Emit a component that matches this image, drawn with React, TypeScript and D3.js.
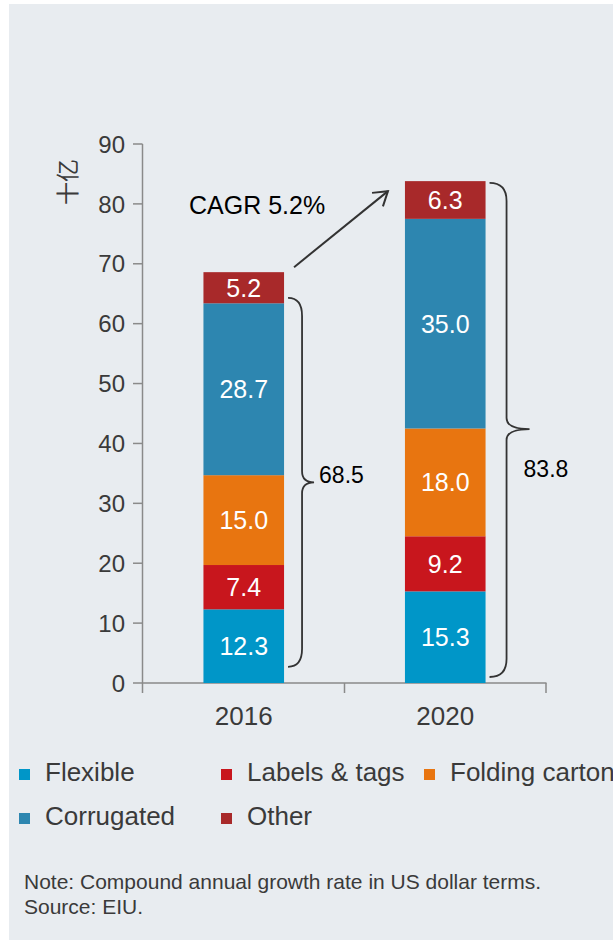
import React from "react";
import * as d3 from "d3";

const years = ["2016", "2020"];
const seriesNames = ["Flexible", "Labels & tags", "Folding carton", "Corrugated", "Other"];
const seriesColors = ["#0096c8", "#c8161d", "#e87510", "#2d86b0", "#a8292a"];
const values2016 = [12.3, 7.4, 15.0, 28.7, 5.2];
const values2020 = [15.3, 9.2, 18.0, 35.0, 6.3];
const totals = ["68.5", "83.8"];
const yTicks = [0, 10, 20, 30, 40, 50, 60, 70, 80, 90];
const braceLow = [2.7, 1.0];
const braceHigh = [64.3, 83.5];
const braceMid = [33.5, 42.4];
const totalLabelAt = [34.8, 35.8];
const cagrLabel = "CAGR 5.2%";
const yAxisTitle = "十亿";
const noteLines = ["Note: Compound annual growth rate in US dollar terms.", "Source: EIU."];

const W = 613;
const H = 940;
const FONT = "Arial, 'Liberation Sans', Helvetica, sans-serif";

export default function App() {
  const y = d3.scaleLinear().domain([0, 90]).range([683, 144]);
  const x = d3.scaleBand<string>().domain(years).range([143, 546]).paddingInner(0.6).paddingOuter(0.3);
  const bw = x.bandwidth();
  const data = [values2016, values2020];
  const stackRows = years.map((yr, i) => {
    const row: any = { year: yr };
    seriesNames.forEach((s, j) => (row[s] = data[i][j]));
    return row;
  });
  const stacked = d3.stack<any>().keys(seriesNames)(stackRows);

  const axisColor = "#8a8a8a";
  const textColor = "#3a3a3a";

  const spineOff = [18, 21];
  const tipOff = [30, 44];
  const labelOff = [35, 38];

  const bracePath = (i: number) => {
    const bx = (x(years[i]) as number) + bw;
    const x0 = bx + 4;
    const xs = bx + spineOff[i];
    const xt = bx + tipOff[i];
    const yt = y(braceHigh[i]);
    const yb = y(braceLow[i]);
    const ym = y(braceMid[i]);
    const r = 18;
    const r2 = 11;
    return `M${x0},${yt} Q${xs},${yt} ${xs},${yt + r} L${xs},${ym - r2} Q${xs},${ym} ${xt},${ym} Q${xs},${ym} ${xs},${ym + r2} L${xs},${yb - r} Q${xs},${yb} ${x0},${yb}`;
  };

  const midTick = ((x("2016") as number) + bw + (x("2020") as number)) / 2;
  const xTickPositions = [142.5, midTick, 546];

  // arrow
  const ax0 = (x("2016") as number) + bw + 10;
  const ay0 = y(d3.sum(values2016)) - 5;
  const ax1 = (x("2020") as number) - 17;
  const ay1 = y(d3.sum(values2020)) + 10;
  const ang = Math.atan2(ay1 - ay0, ax1 - ax0);
  const hl = 16;
  const ha = Math.PI / 5.5;

  const legendRows = [
    [0, 1, 2],
    [3, 4],
  ];
  const legendX = [19, 221, 424];
  const legendY = [781, 825];

  return (
    <svg width={W} height={H} style={{ position: "absolute", left: 0, top: 0, fontFamily: FONT }}>
      <rect x={0} y={0} width={W} height={H} fill="#ffffff" />
      <rect x={9} y={4} width={W - 9} height={H - 4} fill="#e8ecf0" />

      {/* y axis */}
      <line x1={142.5} x2={142.5} y1={y(90)} y2={y(0)} stroke={axisColor} strokeWidth={1.5} />
      {yTicks.map((t) => (
        <g key={t}>
          <line x1={133} x2={142.5} y1={y(t)} y2={y(t)} stroke={axisColor} strokeWidth={1.5} />
          <text x={125} y={y(t)} dy="0.36em" textAnchor="end" fontSize={24} fill={textColor}>
            {t}
          </text>
        </g>
      ))}
      <text
        transform={`translate(76,182) rotate(-90)`}
        textAnchor="middle"
        fontSize={23}
        fill={textColor}
        fontFamily="'Noto Sans CJK SC', sans-serif"
      >
        {yAxisTitle}
      </text>

      {/* x axis */}
      <line x1={142} x2={546.5} y1={y(0)} y2={y(0)} stroke={axisColor} strokeWidth={1.5} />
      {xTickPositions.map((p, i) => (
        <line key={i} x1={p} x2={p} y1={y(0)} y2={y(0) + 10} stroke={axisColor} strokeWidth={1.5} />
      ))}
      {years.map((yr) => (
        <text key={yr} x={(x(yr) as number) + bw / 2} y={725} textAnchor="middle" fontSize={26} fill={textColor}>
          {yr}
        </text>
      ))}

      {/* bars */}
      {stacked.map((layer, j) => (
        <g key={layer.key} fill={seriesColors[j]}>
          {layer.map((d, i) => (
            <rect key={i} x={x(years[i]) as number} y={y(d[1])} width={bw} height={y(d[0]) - y(d[1])} />
          ))}
        </g>
      ))}
      {stacked.map((layer, j) =>
        layer.map((d, i) => (
          <text
            key={`${j}-${i}`}
            x={(x(years[i]) as number) + bw / 2}
            y={y((d[0] + d[1]) / 2)}
            dy="0.36em"
            textAnchor="middle"
            fontSize={25}
            fill="#ffffff"
          >
            {data[i][j].toFixed(1)}
          </text>
        ))
      )}

      {/* braces */}
      {years.map((yr, i) => (
        <g key={yr}>
          <path d={bracePath(i)} fill="none" stroke="#333333" strokeWidth={1.8} />
          <text
            x={(x(yr) as number) + bw + labelOff[i]}
            y={y(totalLabelAt[i])}
            dy="0.36em"
            fontSize={23}
            fill="#000000"
          >
            {totals[i]}
          </text>
        </g>
      ))}

      {/* CAGR arrow */}
      <line x1={ax0} y1={ay0} x2={ax1} y2={ay1} stroke="#333333" strokeWidth={2} />
      <path
        d={`M${ax1 - hl * Math.cos(ang - ha)},${ay1 - hl * Math.sin(ang - ha)} L${ax1},${ay1} L${ax1 - hl * Math.cos(ang + ha)},${ay1 - hl * Math.sin(ang + ha)}`}
        fill="none"
        stroke="#333333"
        strokeWidth={2}
      />
      <text x={189} y={214} fontSize={25} fill="#000000">
        {cagrLabel}
      </text>

      {/* legend */}
      {legendRows.map((row, ri) =>
        row.map((si, ci) => (
          <g key={si}>
            <rect x={legendX[ci]} y={legendY[ri] - 12} width={11} height={11} fill={seriesColors[si]} />
            <text x={legendX[ci] + 26} y={legendY[ri]} fontSize={26} fill={textColor}>
              {seriesNames[si]}
            </text>
          </g>
        ))
      )}

      {/* note */}
      {noteLines.map((l, i) => (
        <text key={i} x={24} y={889 + i * 25} fontSize={21} fill={textColor}>
          {l}
        </text>
      ))}
    </svg>
  );
}
